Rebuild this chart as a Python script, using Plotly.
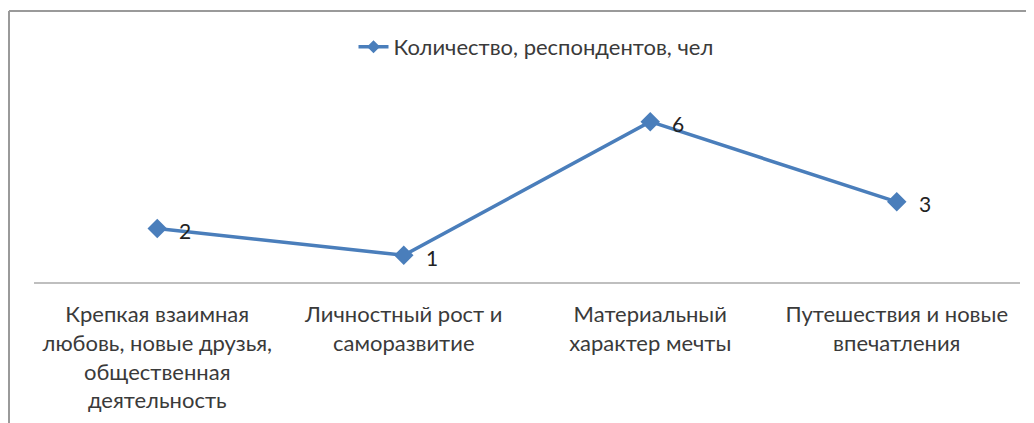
import plotly.graph_objects as go

categories = [
    "Крепкая взаимная<br>любовь, новые друзья,<br>общественная<br>деятельность",
    "Личностный рост и<br>саморазвитие",
    "Материальный<br>характер мечты",
    "Путешествия и новые<br>впечатления",
]
values = [2, 1, 6, 3]
series_name = "Количество, респондентов, чел"

# the page body has an 8px margin; the figure is sized to fill the rest
OFF = 8
W, H = 1034 - OFF, 423 - OFF
ML, MR, MT, MB = 34 - OFF, 14, 95 - OFF, 141
FONT = "Lato"
LINE_COLOR = "#4A7EBB"
TEXT_COLOR = "#3A3A3A"

fig = go.Figure()
fig.add_trace(go.Scatter(
    x=categories, y=values, name=series_name, mode="lines+markers",
    line=dict(color=LINE_COLOR, width=3.5),
    marker=dict(symbol="diamond", size=15, color=LINE_COLOR),
    showlegend=False,
))
# legend entry with the smaller legend diamond
fig.add_trace(go.Scatter(
    x=[None], y=[None], name=series_name, mode="lines+markers",
    line=dict(color=LINE_COLOR, width=3.5),
    marker=dict(symbol="diamond", size=10, color=LINE_COLOR),
    showlegend=True,
))

for c, v in zip(categories, values):
    fig.add_annotation(x=c, y=v, text=str(v), showarrow=False,
                       xshift=28, yshift=-2, xanchor="center", yanchor="middle",
                       font=dict(family=FONT, size=21, color="#222222"))

pw = W - ML - MR
ph = H - MT - MB
def px(xp):
    return (xp - OFF - ML) / pw
def py(yp):
    return (H - MB - (yp - OFF)) / ph

border = dict(color="#9A9A9A", width=2)
fig.add_shape(type="line", xref="paper", yref="paper",
              x0=px(9), x1=px(9), y0=py(11), y1=py(430), line=border)
fig.add_shape(type="line", xref="paper", yref="paper",
              x0=px(9), x1=px(1040), y0=py(11), y1=py(11), line=border)

fig.update_layout(
    width=W, height=H,
    margin=dict(l=ML, r=MR, t=MT, b=MB, autoexpand=False),
    paper_bgcolor="white", plot_bgcolor="white",
    font=dict(family=FONT, size=22, color=TEXT_COLOR),
    showlegend=True,
    legend=dict(orientation="h", x=px(536), xanchor="center", y=py(47), yanchor="middle",
                font=dict(family=FONT, size=22, color=TEXT_COLOR),
                bgcolor="rgba(0,0,0,0)"),
    xaxis=dict(showline=True, linecolor="#BFBFBF", linewidth=2, showgrid=False,
               range=[-0.5, 3.5], automargin=False, ticklabelstandoff=12,
               ticks="", tickfont=dict(family=FONT, size=22, color=TEXT_COLOR),
               zeroline=False, fixedrange=True),
    yaxis=dict(range=[0, 7], visible=False, showgrid=False, zeroline=False,
               automargin=False),
)

fig.write_html("out.html")
